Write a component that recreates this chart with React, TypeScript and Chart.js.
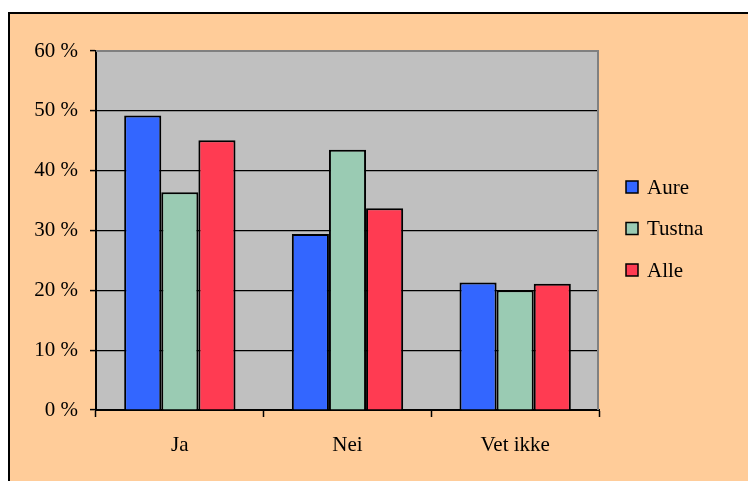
import React, { useEffect, useRef } from "react";
import { Chart, registerables } from "chart.js";

Chart.register(...registerables);

const categories = ["Ja", "Nei", "Vet ikke"];
const seriesNames = ["Aure", "Tustna", "Alle"];
const aure = [49.2, 29.4, 21.3];
const tustna = [36.4, 43.5, 20.0];
const alle = [45.1, 33.7, 21.1];
const seriesColors = ["#3366FF", "#9ACBB3", "#FF3B52"];
const yTicks = [0, 10, 20, 30, 40, 50, 60];

const FONT = "'Liberation Serif', 'Times New Roman', serif";
const FS = 21;

const framePlugin = {
  id: "frame",
  beforeDraw(chart: any) {
    const { ctx, chartArea } = chart;
    ctx.save();
    ctx.fillStyle = "#ffffff";
    ctx.fillRect(0, 0, chart.width, chart.height);
    ctx.fillStyle = "#FFCC99";
    ctx.fillRect(8, 12, chart.width, chart.height);
    ctx.strokeStyle = "#000";
    ctx.lineWidth = 2;
    ctx.beginPath();
    ctx.moveTo(9, chart.height + 5);
    ctx.lineTo(9, 13);
    ctx.lineTo(chart.width + 5, 13);
    ctx.stroke();
    ctx.fillStyle = "#C0C0C0";
    ctx.fillRect(chartArea.left, chartArea.top, chartArea.right - chartArea.left, chartArea.bottom - chartArea.top);
    ctx.restore();
  },
  beforeDatasetsDraw(chart: any) {
    const { ctx, chartArea } = chart;
    ctx.save();
    ctx.strokeStyle = "#808080";
    ctx.lineWidth = 2;
    ctx.beginPath();
    ctx.moveTo(chartArea.left, chartArea.top);
    ctx.lineTo(chartArea.right - 1, chartArea.top);
    ctx.lineTo(chartArea.right - 1, chartArea.bottom);
    ctx.stroke();
    ctx.restore();
  },
  afterDraw(chart: any) {
    const { ctx } = chart;
    ctx.save();
    ctx.font = `${FS}px ${FONT}`;
    ctx.textBaseline = "middle";
    chart.data.datasets.forEach((ds: any, i: number) => {
      const y = 187 + i * 41.5;
      ctx.fillStyle = ds.backgroundColor;
      ctx.fillRect(626, y - 6, 12, 12);
      ctx.strokeStyle = "#000";
      ctx.lineWidth = 1.5;
      ctx.strokeRect(626, y - 6, 12, 12);
      ctx.fillStyle = "#000";
      ctx.fillText(ds.label, 647, y + 1);
    });
    ctx.restore();
  },
};

export default function App() {
  const ref = useRef<HTMLCanvasElement>(null);
  useEffect(() => {
    document.body.style.margin = "0";
    document.body.style.overflow = "hidden";
    const data = [aure, tustna, alle];
    const chart = new Chart(ref.current!, {
      type: "bar",
      data: {
        labels: categories,
        datasets: seriesNames.map((name, i) => ({
          label: name,
          data: data[i],
          backgroundColor: seriesColors[i],
          borderColor: "#000",
          borderWidth: 2,
          categoryPercentage: 0.664,
          barPercentage: 1,
        })),
      },
      options: {
        animation: false,
        responsive: false,
        devicePixelRatio: 1,
        layout: { padding: { left: 0, top: 51, right: 149, bottom: 0 } },
        plugins: { legend: { display: false }, tooltip: { enabled: false } },
        scales: {
          x: {
            grid: {
              offset: true,
              drawOnChartArea: false,
              drawTicks: true,
              tickLength: 7,
              tickColor: "#000",
              tickWidth: 1.5,
            },
            border: { color: "#000", width: 2 },
            ticks: { color: "#000", font: { family: FONT, size: FS }, padding: 16 },
            afterFit(scale: any) {
              scale.height = 71;
            },
          },
          y: {
            min: 0,
            max: 60,
            afterBuildTicks(scale: any) {
              scale.ticks = yTicks.map((v) => ({ value: v }));
            },
            grid: {
              color: (c: any) => (c.tick && c.tick.value === 60 ? "rgba(0,0,0,0)" : "#000"),
              lineWidth: 1.2,
              tickLength: 6,
              tickColor: "#000",
              tickWidth: 1.5,
            },
            border: { color: "#000", width: 2 },
            ticks: {
              color: "#000",
              font: { family: FONT, size: FS },
              padding: 12,
              callback: (v: any) => `${v} %`,
            },
            afterFit(scale: any) {
              scale.width = 96;
            },
          },
        },
      },
      plugins: [framePlugin],
    });
    return () => chart.destroy();
  }, []);
  return <canvas ref={ref} width={748} height={481} style={{ display: "block" }} />;
}
